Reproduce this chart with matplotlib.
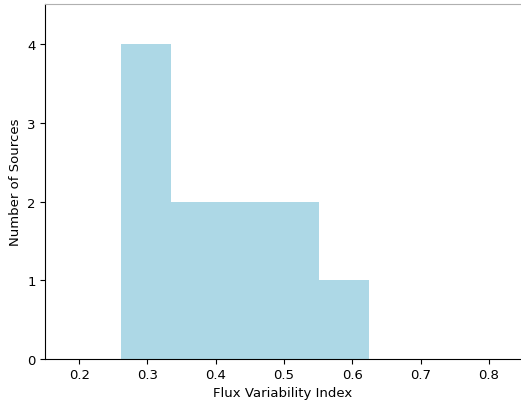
import numpy as np
import matplotlib
matplotlib.use("Agg")
import matplotlib.pyplot as plt

# histogram: bin edges and counts
bin_edges = [0.262, 0.3344, 0.4068, 0.4792, 0.5516, 0.624]
counts = [4, 2, 2, 2, 1]

plt.rcParams["font.size"] = 9.5
plt.rcParams["xtick.major.size"] = 3.3
plt.rcParams["ytick.major.size"] = 3.3

fig = plt.figure(figsize=(5.21, 4.02), dpi=100)
ax = fig.add_axes([0.0864, 0.1045, 0.9136, 0.883])

ax.hist(bin_edges[:-1], bins=bin_edges, weights=counts, color="lightblue")

ax.set_xlim(0.150, 0.847)
ax.set_ylim(0, 4.51)
ax.set_xticks([0.2, 0.3, 0.4, 0.5, 0.6, 0.7, 0.8])
ax.set_yticks([0, 1, 2, 3, 4])
ax.set_xlabel("Flux Variability Index", labelpad=3.5)
ax.set_ylabel("Number of Sources")

ax.spines["right"].set_visible(False)
ax.spines["top"].set_color("#b0b0b0")

fig.savefig("out.png", dpi=100)
